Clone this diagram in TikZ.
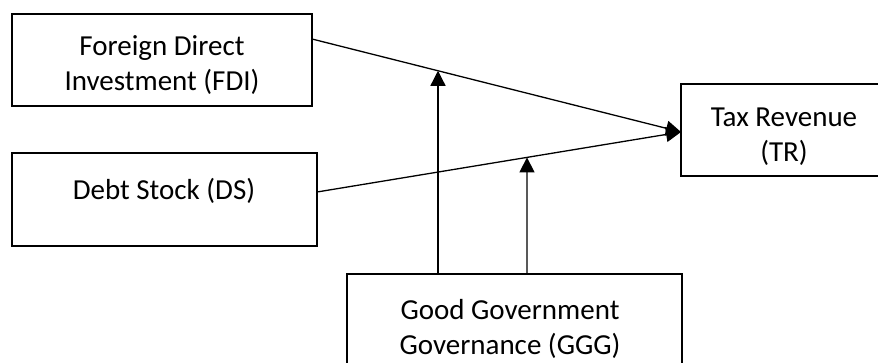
\documentclass[tikz,border=0pt]{standalone}
\usepackage{fontspec}
\setmainfont{Carlito}
\usetikzlibrary{arrows.meta}
\tikzset{
  box/.style={draw=black, line width=2.2pt, rectangle, inner sep=0pt, outer sep=0pt},
  lbl/.style={font=\fontsize{29}{35}\selectfont, align=center, inner sep=0pt, anchor=base},
  link/.style={draw=black, line width=1.3pt, -{Triangle[length=15pt,width=15pt]}}
}
\begin{document}
\begin{tikzpicture}[x=1pt,y=-1pt]
\useasboundingbox (0,0) rectangle (878,362);
\clip (0,0) rectangle (878,362);
% boxes
\node[box, minimum width=300pt, minimum height=92pt] (fdi) at (162,60) {};
\node[box, minimum width=305pt, minimum height=93pt] (ds) at (164.5,199.5) {};
\node[box, minimum width=220pt, minimum height=92pt] (tr) at (791,130) {};
\node[box, minimum width=335pt, minimum height=160pt] (ggg) at (514.5,354) {};
% texts (base = baseline of last line)
\node[lbl] (tfdi) at (162,90) {Foreign Direct\\Investment (FDI)};
\node[lbl] (tds) at (164,199) {Debt Stock (DS)};
\node[lbl] (ttr) at (784,161) {Tax Revenue\\(TR)};
\node[lbl] (tggg) at (510,354) {Good Government\\Governance (GGG)};
% connector end points
\coordinate (fdiout) at (fdi.east |- 0,39);
\coordinate (dsout) at (ds.east |- 0,192);
\coordinate (trin) at (tr.west |- 0,132);
\coordinate (g1) at (438,0);
\coordinate (g2) at (527,0);
\coordinate (g1s) at (g1 |- ggg.north);
\coordinate (g2s) at (g2 |- ggg.north);
\coordinate (m1) at (intersection of fdiout--trin and g1s--g1);
\coordinate (m2) at (intersection of dsout--trin and g2s--g2);
% connectors
\draw[link] (fdiout) -- (trin);
\draw[link] (dsout) -- (trin);
\draw[link] (g1s) -- (m1);
\draw[link] (g2s) -- (m2);
\end{tikzpicture}
\end{document}
